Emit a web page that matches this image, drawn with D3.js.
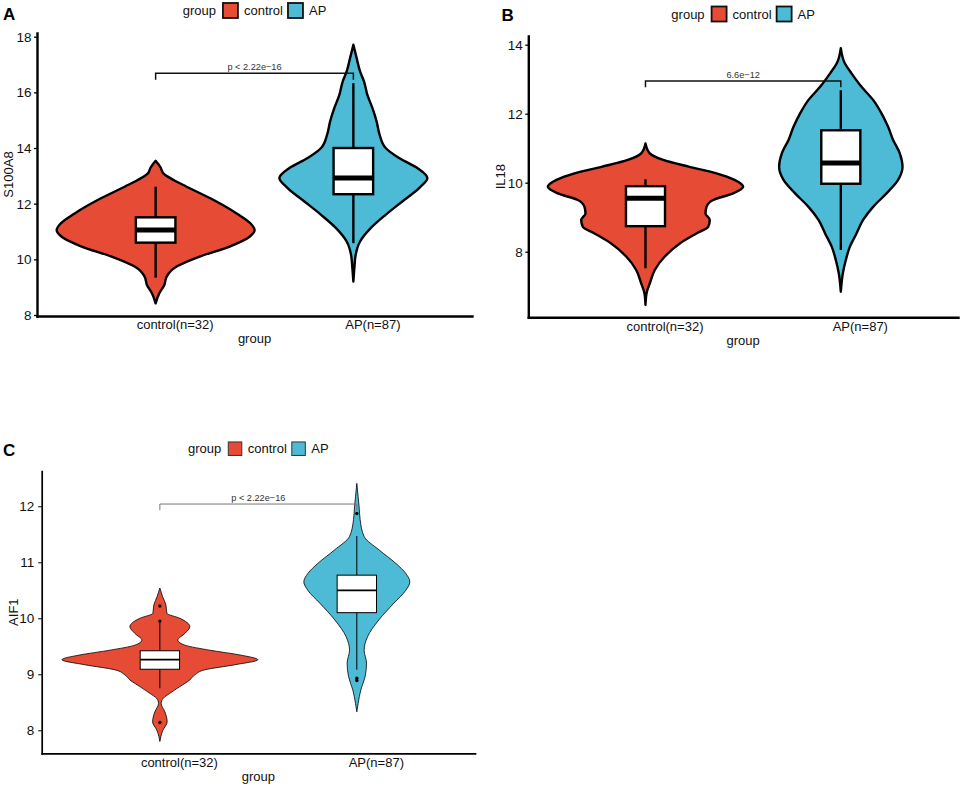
<!DOCTYPE html>
<html><head><meta charset="utf-8">
<script src="https://cdn.jsdelivr.net/npm/d3@7"></script>
<style>
body{margin:0;background:#fff}
svg{display:block}
text{font-family:"Liberation Sans",Arial,Helvetica,sans-serif}
</style>
</head><body>
<svg id="chart" width="962" height="787"></svg>
<script>
// ---------------- DATA ----------------
const groups = ["control", "AP"];
const xTickLabels = ["control(n=32)", "AP(n=87)"];
const fillColors = ["#E64B35", "#4DBBD5"];
const legendTitle = "group";
const xTitle = "group";

const ticksA = [8, 10, 12, 14, 16, 18];
const ticksB = [8, 10, 12, 14];
const ticksC = [8, 9, 10, 11, 12];

// violin density profiles: [value, relative half-width]
const violinA_control = [[13.54,0],[13.3,0.05],[13.09,0.077],[12.85,0.18],[12.61,0.31],[12.13,0.58],[11.65,0.81],[11.29,0.95],[11.05,0.99],[10.81,0.94],[10.46,0.74],[10.10,0.44],[9.74,0.21],[9.38,0.11],[9.08,0.087],[8.78,0.037],[8.42,0]];
const violinA_AP = [[17.71,0],[17.23,0.033],[16.75,0.067],[16.39,0.107],[15.91,0.14],[15.44,0.19],[14.95,0.233],[14.47,0.263],[14.0,0.323],[13.64,0.457],[13.28,0.64],[12.92,0.74],[12.56,0.657],[12.08,0.49],[11.6,0.323],[11.12,0.173],[10.64,0.067],[10.16,0.023],[9.68,0.01],[9.2,0]];
const violinB_control = [[11.14,0],[10.85,0.043],[10.66,0.177],[10.46,0.44],[10.27,0.71],[10.08,0.89],[9.88,0.977],[9.69,0.877],[9.5,0.677],[9.3,0.61],[9.11,0.6],[8.92,0.643],[8.72,0.627],[8.53,0.51],[8.24,0.343],[7.86,0.193],[7.47,0.093],[7.08,0.043],[6.79,0.01],[6.46,0]];
const violinB_AP = [[13.9,0],[13.46,0.04],[13.17,0.107],[12.78,0.207],[12.4,0.323],[12.01,0.407],[11.62,0.473],[11.24,0.523],[10.85,0.59],[10.46,0.617],[10.08,0.573],[9.69,0.457],[9.3,0.323],[8.92,0.223],[8.53,0.157],[8.14,0.09],[7.76,0.05],[7.37,0.02],[6.84,0]];
const violinC_control = [[10.54,0],[10.39,0.027],[10.24,0.06],[10.09,0.07],[10.0,0.2],[9.85,0.3],[9.73,0.25],[9.61,0.18],[9.52,0.25],[9.43,0.5],[9.345,0.8],[9.26,0.98],[9.17,0.75],[9.08,0.45],[8.99,0.35],[8.9,0.3],[8.78,0.2],[8.66,0.1],[8.57,0.033],[8.48,0.013],[8.33,0.05],[8.15,0.073],[8.0,0.03],[7.89,0.01],[7.8,0]];
const violinC_AP = [[12.41,0],[12.17,0.013],[11.99,0.023],[11.76,0.033],[11.46,0.073],[11.22,0.223],[10.98,0.39],[10.8,0.49],[10.65,0.53],[10.5,0.49],[10.27,0.37],[9.97,0.22],[9.67,0.107],[9.43,0.073],[9.2,0.097],[8.96,0.083],[8.72,0.04],[8.48,0.013],[8.33,0]];

// boxplot stats: [lower whisker, q1, median, q3, upper whisker]
const boxA = [[9.34,10.6,11.05,11.51,12.61],[10.58,12.34,12.92,14.0,16.33]];
const boxB = [[7.52,8.74,9.55,9.9,10.1],[8.05,9.97,10.57,11.52,12.68]];
const boxC = [[8.75,9.09,9.26,9.42,9.95],[9.08,10.1,10.5,10.77,11.47]];
const outliersC = [[10.22,9.95,8.14],[11.87,8.93,8.89]];

// significance brackets: [bar value, tip value]
const bracketA = [16.69, 16.45];
const bracketB = [12.95, 12.77];
const bracketC = [12.04, 11.93];
const pLabelA = "p < 2.22e\u221216";
const pLabelB = "6.6e\u221212";
const pLabelC = "p < 2.22e\u221216";

// ---------------- LAYOUT ----------------
const svg = d3.select("#chart");

const panels = [
  {tag:"A", yTitle:"S100A8", x0:37, x1:472, yTop:33, yBot:316, domain:[7.964,18.133], ticks:ticksA,
   violins:[violinA_control, violinA_AP], boxes:boxA, outliers:null, bracket:bracketA, pLabel:pLabelA,
   tagPos:[3,20], legendY:10.5, tickLabelY:329, xTitleY:343, yTitleX:12.5, thick:true, tickSize:3, tickPad:2.5},
  {tag:"B", yTitle:"IL18", x0:528.3, x1:958, yTop:36, yBot:317.3, domain:[6.099,14.252], ticks:ticksB,
   violins:[violinB_control, violinB_AP], boxes:boxB, outliers:null, bracket:bracketB, pLabel:pLabelB,
   tagPos:[501.5,20.7], legendY:14, tickLabelY:331, xTitleY:345, yTitleX:505, thick:true, tickSize:3, tickPad:2.5},
  {tag:"C", yTitle:"AIF1", x0:41.7, x1:475, yTop:471, yBot:753.3, domain:[7.589,12.63], ticks:ticksC,
   violins:[violinC_control, violinC_AP], boxes:boxC, outliers:outliersC, bracket:bracketC, pLabel:pLabelC,
   tagPos:[3,456], legendY:448.7, tickLabelY:767, xTitleY:781, yTitleX:18, thick:false, tickSize:3.5, tickPad:4}
];

const labelShift = 19;

panels.forEach(p => {
  const st = p.thick
    ? {outline:2.4, box:2.4, median:5, whisk:2.4, axis:2.4, bracket:1.5, bracketColor:"#111", key:15, keyStroke:1.8, keyStrokeColor:"#111"}
    : {outline:0.8, box:1, median:1.8, whisk:1, axis:1.7, bracket:1, bracketColor:"#777", key:13.5, keyStroke:1, keyStrokeColor:"#333"};

  const g = svg.append("g");
  const x = d3.scalePoint().domain(groups).range([p.x0, p.x1]).padding(0.6);
  const y = d3.scaleLinear().domain(p.domain).range([p.yBot, p.yTop]);
  const w = d3.scaleLinear().domain([0, 1]).range([0, 100]);
  const color = d3.scaleOrdinal().domain(groups).range(fillColors);
  const boxW = x.step() * 0.2;

  // violins
  groups.forEach((grp, i) => {
    const cx = x(grp);
    const area = d3.area().curve(d3.curveMonotoneY)
      .y(d => y(d[0])).x0(d => cx - w(d[1])).x1(d => cx + w(d[1]));
    g.append("path").datum(p.violins[i]).attr("d", area)
      .attr("fill", color(grp)).attr("stroke", "#000").attr("stroke-width", st.outline)
      .attr("stroke-linejoin", "round");
  });

  // boxplots
  groups.forEach((grp, i) => {
    const cx = x(grp);
    const [lo, q1, med, q3, hi] = p.boxes[i];
    g.append("line").attr("x1", cx).attr("x2", cx).attr("y1", y(hi)).attr("y2", y(q3))
      .attr("stroke", "#000").attr("stroke-width", st.whisk);
    g.append("line").attr("x1", cx).attr("x2", cx).attr("y1", y(q1)).attr("y2", y(lo))
      .attr("stroke", "#000").attr("stroke-width", st.whisk);
    g.append("rect").attr("x", cx - boxW/2).attr("y", y(q3)).attr("width", boxW).attr("height", y(q1) - y(q3))
      .attr("fill", "#fff").attr("stroke", "#000").attr("stroke-width", st.box);
    g.append("line").attr("x1", cx - boxW/2).attr("x2", cx + boxW/2).attr("y1", y(med)).attr("y2", y(med))
      .attr("stroke", "#000").attr("stroke-width", st.median);
    if (p.outliers) {
      g.selectAll(null).data(p.outliers[i]).enter().append("circle")
        .attr("cx", cx).attr("cy", d => y(d)).attr("r", 1.7).attr("fill", "#000");
    }
  });

  // bracket
  const [bv, tv] = p.bracket;
  const bx0 = x(groups[0]), bx1 = x(groups[1]);
  g.append("path")
    .attr("d", `M${bx0},${y(tv)}V${y(bv)}H${bx1}V${y(tv)}`)
    .attr("fill", "none").attr("stroke", st.bracketColor).attr("stroke-width", st.bracket);
  g.append("text").attr("x", (bx0 + bx1)/2).attr("y", y(bv) - 3)
    .attr("text-anchor", "middle").attr("font-size", 9.2).attr("fill", "#333").text(p.pLabel);

  // y axis
  const yAxis = d3.axisLeft(y).tickValues(p.ticks).tickFormat(d3.format("d"))
    .tickSize(p.tickSize).tickSizeOuter(0).tickPadding(p.tickPad);
  const ya = g.append("g").attr("transform", `translate(${p.x0},0)`).call(yAxis);
  ya.select(".domain").attr("stroke", "#000").attr("stroke-width", st.axis).attr("stroke-linecap", "square");
  ya.selectAll(".tick line").attr("stroke", "#000").attr("stroke-width", p.thick ? 1.3 : 1);
  ya.selectAll(".tick text").attr("font-size", 13.5).attr("fill", "#111")
    .style("font-family", '"Liberation Sans",Arial,sans-serif');

  // x axis
  const xAxis = d3.axisBottom(x).tickSize(0).tickSizeOuter(0).tickFormat((d, i) => xTickLabels[i]);
  const xa = g.append("g").attr("transform", `translate(0,${p.yBot})`).call(xAxis);
  xa.select(".domain").attr("stroke", "#000").attr("stroke-width", st.axis).attr("stroke-linecap", "square");
  xa.selectAll(".tick text").attr("font-size", 13).attr("fill", "#111")
    .attr("dy", null).attr("y", p.tickLabelY - p.yBot).attr("dx", labelShift)
    .style("font-family", '"Liberation Sans",Arial,sans-serif');

  // axis titles
  g.append("text").attr("x", (p.x0 + p.x1)/2).attr("y", p.xTitleY).attr("text-anchor", "middle")
    .attr("font-size", 13).attr("fill", "#111").text(xTitle);
  g.append("text").attr("transform", `translate(${p.yTitleX},${(p.yTop + p.yBot)/2}) rotate(-90)`)
    .attr("text-anchor", "middle").attr("font-size", 13).attr("fill", "#111").text(p.yTitle);

  // panel tag
  g.append("text").attr("x", p.tagPos[0]).attr("y", p.tagPos[1]).attr("font-size", 17)
    .attr("font-weight", "bold").attr("fill", "#000").text(p.tag);

  // legend
  const lg = g.append("g");
  let cur = 0;
  const tt = lg.append("text").attr("x", cur).attr("y", p.legendY + 4.5).attr("font-size", 13).attr("fill", "#111").text(legendTitle);
  cur += tt.node().getComputedTextLength() + 7;
  groups.forEach((grp, i) => {
    lg.append("rect").attr("x", cur).attr("y", p.legendY - st.key/2).attr("width", st.key).attr("height", st.key)
      .attr("fill", color(grp)).attr("stroke", st.keyStrokeColor).attr("stroke-width", st.keyStroke);
    cur += st.key + 6;
    const t = lg.append("text").attr("x", cur).attr("y", p.legendY + 4.5).attr("font-size", 13).attr("fill", "#111").text(grp);
    cur += t.node().getComputedTextLength() + (i === 0 ? 5 : 0);
  });
  const lx = (p.x0 + p.x1)/2 - cur/2;
  lg.attr("transform", `translate(${lx},0)`);
});
</script>
</body></html>
